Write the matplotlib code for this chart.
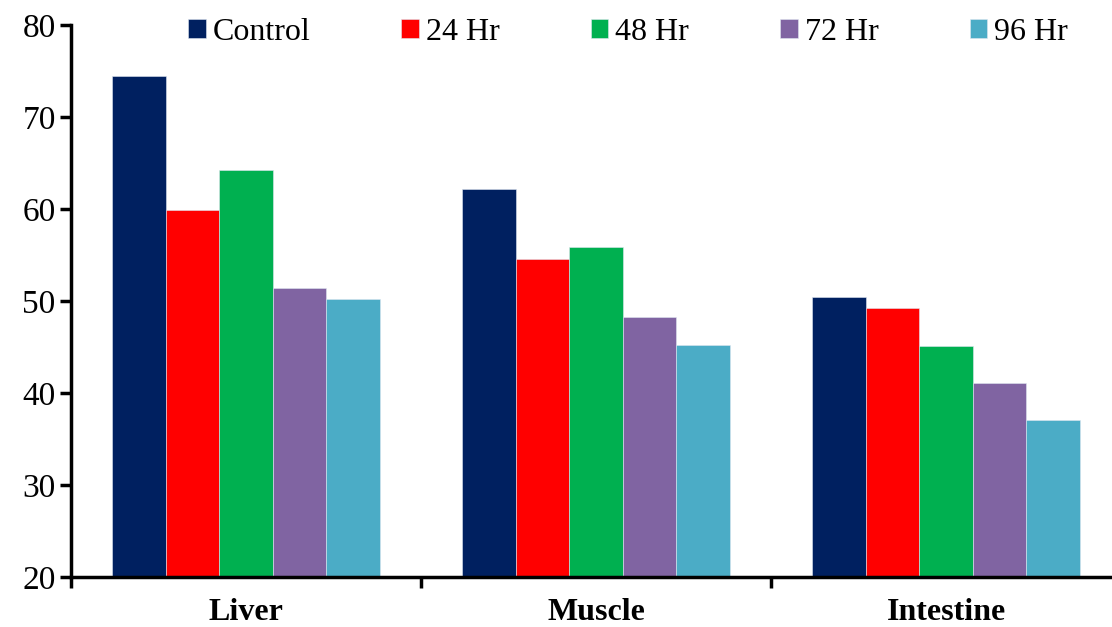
import matplotlib
matplotlib.use("Agg")
import matplotlib.pyplot as plt
import numpy as np

categories = ["Liver", "Muscle", "Intestine"]
series_names = ["Control", "24 Hr", "48 Hr", "72 Hr", "96 Hr"]
control = [74.5, 62.2, 50.4]
hr24 = [59.9, 54.6, 49.2]
hr48 = [64.2, 55.9, 45.1]
hr72 = [51.4, 48.3, 41.1]
hr96 = [50.2, 45.2, 37.1]
yticks = [20, 30, 40, 50, 60, 70, 80]

series = [control, hr24, hr48, hr72, hr96]
colors = ["#002060", "#FF0000", "#00B050", "#8064A2", "#4BACC6"]

plt.rcParams['font.family'] = ['Liberation Serif', 'DejaVu Serif']

W, H = 1112, 627
fig = plt.figure(figsize=(W / 100, H / 100), dpi=100)
left_px, right_px, top_px, bot_px = 71, 1121, 25, 577
ax = fig.add_axes([left_px / W, (H - bot_px) / H, (right_px - left_px) / W, (bot_px - top_px) / H])

x = np.arange(len(categories))
bw = 0.153
for i, (vals, name, c) in enumerate(zip(series, series_names, colors)):
    ax.bar(x + (i - 2) * bw, np.array(vals) - 20, bottom=20, width=bw, color=c,
           edgecolor="#dfe6f0", linewidth=0.4, label=name)

ax.set_ylim(20, 80)
ax.set_xlim(-0.5, 2.5)
ax.set_yticks(yticks)
ax.set_yticklabels([str(t) for t in yticks], fontsize=24)
ax.set_xticks([-0.5, 0.5, 1.5, 2.5])
ax.set_xticklabels([])
ax.set_xticks(x, minor=True)
ax.set_xticklabels(categories, minor=True, fontsize=23, fontweight='bold')
ax.tick_params(axis='x', which='minor', length=0, pad=15)
ax.tick_params(axis='x', which='major', direction='out', length=8, width=2.5)
ax.tick_params(axis='y', direction='out', length=8, width=2.5, pad=3)

for s in ['top', 'right']:
    ax.spines[s].set_visible(False)
for s in ['left', 'bottom']:
    ax.spines[s].set_linewidth(2.5)

ax.legend(loc='center', bbox_to_anchor=(628 / W, 1 - 32 / H), bbox_transform=fig.transFigure,
          ncol=5, frameon=False, fontsize=23, handlelength=0.55, handleheight=0.55,
          handletextpad=0.22, columnspacing=2.85, borderpad=0)

fig.savefig("out.png", dpi=100)
